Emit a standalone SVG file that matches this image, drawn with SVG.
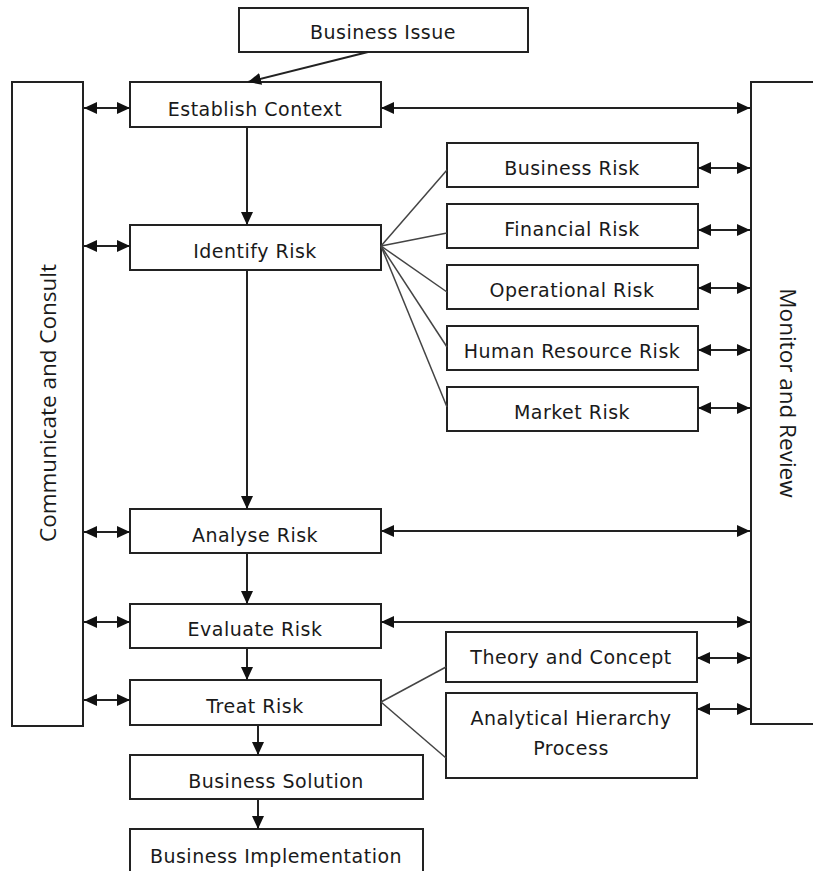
<svg xmlns="http://www.w3.org/2000/svg" width="813" height="871" viewBox="0 0 813 871">
<style>
.box{fill:#fff;stroke:#222;stroke-width:2}
.t{font-family:"DejaVu Sans",sans-serif;font-size:19px;letter-spacing:0.5px;fill:#1a1a1a;text-anchor:middle;dominant-baseline:central}
.side{font-family:"Open Sans",sans-serif;font-size:22.5px;fill:#1a1a1a;text-anchor:middle;dominant-baseline:central}
.c{stroke:#222;stroke-width:2;fill:none}
.thin{stroke:#444;stroke-width:1.5;fill:none}
</style>
<defs>
<marker id="ah" viewBox="0 0 10 10" refX="10" refY="5" markerWidth="13" markerHeight="12" markerUnits="userSpaceOnUse" orient="auto-start-reverse" preserveAspectRatio="none">
<path d="M0,0 L10,5 L0,10 z" fill="#111"/>
</marker>
</defs>
<rect width="813" height="871" fill="#fff"/>
<g id="communicate"><rect class="box" x="12" y="82" width="71" height="644"/><text class="side" transform="translate(47,403) rotate(-90)">Communicate and Consult</text></g>
<g id="monitor"><path class="box" d="M820,82 H751 V724 H820"/><text class="side" transform="translate(788,393) rotate(90)">Monitor and Review</text></g>
<g id="business-issue"><rect class="box" x="239" y="8" width="289" height="44"/><text class="t" x="383" y="32">Business Issue</text></g>
<g id="establish"><rect class="box" x="130" y="82" width="251" height="45"/><text class="t" x="255" y="109">Establish Context</text></g>
<g id="identify"><rect class="box" x="130" y="225" width="251" height="45"/><text class="t" x="255" y="251">Identify Risk</text></g>
<g id="business-risk"><rect class="box" x="447" y="143" width="251" height="44"/><text class="t" x="572" y="168">Business Risk</text></g>
<g id="financial-risk"><rect class="box" x="447" y="204" width="251" height="44"/><text class="t" x="572" y="229">Financial Risk</text></g>
<g id="operational-risk"><rect class="box" x="447" y="265" width="251" height="44"/><text class="t" x="572" y="290">Operational Risk</text></g>
<g id="hr-risk"><rect class="box" x="447" y="326" width="251" height="44"/><text class="t" x="572" y="351">Human Resource Risk</text></g>
<g id="market-risk"><rect class="box" x="447" y="387" width="251" height="44"/><text class="t" x="572" y="412">Market Risk</text></g>
<g id="analyse"><rect class="box" x="130" y="509" width="251" height="44"/><text class="t" x="255" y="535">Analyse Risk</text></g>
<g id="evaluate"><rect class="box" x="130" y="604" width="251" height="44"/><text class="t" x="255" y="629">Evaluate Risk</text></g>
<g id="treat"><rect class="box" x="130" y="680" width="251" height="45"/><text class="t" x="255" y="706">Treat Risk</text></g>
<g id="theory"><rect class="box" x="446" y="632" width="251" height="50"/><text class="t" x="571" y="657">Theory and Concept</text></g>
<g id="ahp"><rect class="box" x="446" y="693" width="251" height="85"/><text class="t" x="571" y="718">Analytical Hierarchy</text><text class="t" x="571" y="748">Process</text></g>
<g id="solution"><rect class="box" x="130" y="755" width="293" height="44"/><text class="t" x="276" y="781">Business Solution</text></g>
<g id="implementation"><rect class="box" x="130" y="829" width="293" height="50"/><text class="t" x="276" y="856">Business Implementation</text></g>
<g id="connectors">
<line class="c" x1="368" y1="52" x2="248" y2="82" marker-end="url(#ah)"/>
<line class="c" x1="247" y1="127" x2="247" y2="225" marker-end="url(#ah)"/>
<line class="c" x1="247" y1="270" x2="247" y2="509" marker-end="url(#ah)"/>
<line class="c" x1="247" y1="553" x2="247" y2="604" marker-end="url(#ah)"/>
<line class="c" x1="247" y1="648" x2="247" y2="680" marker-end="url(#ah)"/>
<line class="c" x1="258" y1="725" x2="258" y2="755" marker-end="url(#ah)"/>
<line class="c" x1="258" y1="799" x2="258" y2="829" marker-end="url(#ah)"/>
<line class="c" x1="84" y1="108" x2="130" y2="108" marker-start="url(#ah)" marker-end="url(#ah)"/>
<line class="c" x1="84" y1="246" x2="130" y2="246" marker-start="url(#ah)" marker-end="url(#ah)"/>
<line class="c" x1="84" y1="532" x2="130" y2="532" marker-start="url(#ah)" marker-end="url(#ah)"/>
<line class="c" x1="84" y1="622" x2="130" y2="622" marker-start="url(#ah)" marker-end="url(#ah)"/>
<line class="c" x1="84" y1="700" x2="130" y2="700" marker-start="url(#ah)" marker-end="url(#ah)"/>
<line class="c" x1="381" y1="108" x2="750" y2="108" marker-start="url(#ah)" marker-end="url(#ah)"/>
<line class="c" x1="381" y1="531" x2="750" y2="531" marker-start="url(#ah)" marker-end="url(#ah)"/>
<line class="c" x1="381" y1="622" x2="750" y2="622" marker-start="url(#ah)" marker-end="url(#ah)"/>
<line class="c" x1="698" y1="168" x2="750" y2="168" marker-start="url(#ah)" marker-end="url(#ah)"/>
<line class="c" x1="698" y1="230" x2="750" y2="230" marker-start="url(#ah)" marker-end="url(#ah)"/>
<line class="c" x1="698" y1="288" x2="750" y2="288" marker-start="url(#ah)" marker-end="url(#ah)"/>
<line class="c" x1="698" y1="350" x2="750" y2="350" marker-start="url(#ah)" marker-end="url(#ah)"/>
<line class="c" x1="698" y1="408" x2="750" y2="408" marker-start="url(#ah)" marker-end="url(#ah)"/>
<line class="c" x1="697" y1="658" x2="750" y2="658" marker-start="url(#ah)" marker-end="url(#ah)"/>
<line class="c" x1="697" y1="709" x2="750" y2="709" marker-start="url(#ah)" marker-end="url(#ah)"/>
<line class="thin" x1="381" y1="246" x2="447" y2="170"/>
<line class="thin" x1="381" y1="246" x2="447" y2="233"/>
<line class="thin" x1="381" y1="246" x2="447" y2="292"/>
<line class="thin" x1="381" y1="246" x2="447" y2="347"/>
<line class="thin" x1="381" y1="246" x2="447" y2="407"/>
<line class="thin" x1="381" y1="702" x2="446" y2="667"/>
<line class="thin" x1="381" y1="702" x2="446" y2="758"/>
</g>
</svg>
